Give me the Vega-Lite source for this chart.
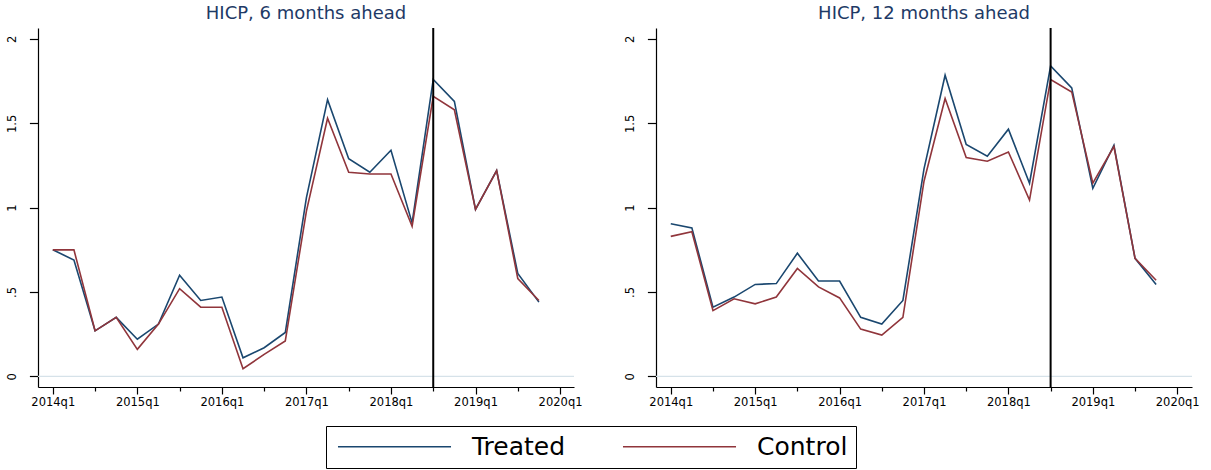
{
  "$schema": "https://vega.github.io/schema/vega-lite/v6.json",
  "background": "white",
  "padding": {"left": 6, "top": 5, "right": 5, "bottom": 0},
  "config": {
    "font": "DejaVu Sans",
    "view": {"stroke": null},
    "axis": {"labelFont": "DejaVu Sans", "labelFontSize": 11.5, "labelColor": "black", "domainColor": "black", "domainWidth": 1.2, "tickColor": "black", "tickWidth": 1.2, "grid": false, "title": null},
    "title": {"fontSize": 18, "fontWeight": "normal", "color": "#1e3a66", "font": "DejaVu Sans", "frame": "group", "offset": 4},
    "concat": {"spacing": 42}
  },
  "datasets": {
    "hicp": [
      {"panel":"6m","t":0,"series":"Treated","value":0.75},{"panel":"6m","t":1,"series":"Treated","value":0.69},{"panel":"6m","t":2,"series":"Treated","value":0.27},{"panel":"6m","t":3,"series":"Treated","value":0.35},{"panel":"6m","t":4,"series":"Treated","value":0.22},{"panel":"6m","t":5,"series":"Treated","value":0.31},{"panel":"6m","t":6,"series":"Treated","value":0.60},{"panel":"6m","t":7,"series":"Treated","value":0.45},{"panel":"6m","t":8,"series":"Treated","value":0.47},{"panel":"6m","t":9,"series":"Treated","value":0.11},{"panel":"6m","t":10,"series":"Treated","value":0.17},{"panel":"6m","t":11,"series":"Treated","value":0.26},{"panel":"6m","t":12,"series":"Treated","value":1.06},{"panel":"6m","t":13,"series":"Treated","value":1.64},{"panel":"6m","t":14,"series":"Treated","value":1.29},{"panel":"6m","t":15,"series":"Treated","value":1.21},{"panel":"6m","t":16,"series":"Treated","value":1.34},{"panel":"6m","t":17,"series":"Treated","value":0.91},{"panel":"6m","t":18,"series":"Treated","value":1.76},{"panel":"6m","t":19,"series":"Treated","value":1.63},{"panel":"6m","t":20,"series":"Treated","value":0.99},{"panel":"6m","t":21,"series":"Treated","value":1.22},{"panel":"6m","t":22,"series":"Treated","value":0.61},{"panel":"6m","t":23,"series":"Treated","value":0.44},
      {"panel":"6m","t":0,"series":"Control","value":0.75},{"panel":"6m","t":1,"series":"Control","value":0.75},{"panel":"6m","t":2,"series":"Control","value":0.27},{"panel":"6m","t":3,"series":"Control","value":0.35},{"panel":"6m","t":4,"series":"Control","value":0.16},{"panel":"6m","t":5,"series":"Control","value":0.31},{"panel":"6m","t":6,"series":"Control","value":0.52},{"panel":"6m","t":7,"series":"Control","value":0.41},{"panel":"6m","t":8,"series":"Control","value":0.41},{"panel":"6m","t":9,"series":"Control","value":0.045},{"panel":"6m","t":10,"series":"Control","value":0.13},{"panel":"6m","t":11,"series":"Control","value":0.21},{"panel":"6m","t":12,"series":"Control","value":0.98},{"panel":"6m","t":13,"series":"Control","value":1.53},{"panel":"6m","t":14,"series":"Control","value":1.21},{"panel":"6m","t":15,"series":"Control","value":1.20},{"panel":"6m","t":16,"series":"Control","value":1.20},{"panel":"6m","t":17,"series":"Control","value":0.89},{"panel":"6m","t":18,"series":"Control","value":1.66},{"panel":"6m","t":19,"series":"Control","value":1.58},{"panel":"6m","t":20,"series":"Control","value":0.99},{"panel":"6m","t":21,"series":"Control","value":1.22},{"panel":"6m","t":22,"series":"Control","value":0.58},{"panel":"6m","t":23,"series":"Control","value":0.45},
      {"panel":"12m","t":0,"series":"Treated","value":0.905},{"panel":"12m","t":1,"series":"Treated","value":0.88},{"panel":"12m","t":2,"series":"Treated","value":0.41},{"panel":"12m","t":3,"series":"Treated","value":0.47},{"panel":"12m","t":4,"series":"Treated","value":0.545},{"panel":"12m","t":5,"series":"Treated","value":0.55},{"panel":"12m","t":6,"series":"Treated","value":0.73},{"panel":"12m","t":7,"series":"Treated","value":0.565},{"panel":"12m","t":8,"series":"Treated","value":0.565},{"panel":"12m","t":9,"series":"Treated","value":0.35},{"panel":"12m","t":10,"series":"Treated","value":0.31},{"panel":"12m","t":11,"series":"Treated","value":0.45},{"panel":"12m","t":12,"series":"Treated","value":1.23},{"panel":"12m","t":13,"series":"Treated","value":1.785},{"panel":"12m","t":14,"series":"Treated","value":1.375},{"panel":"12m","t":15,"series":"Treated","value":1.305},{"panel":"12m","t":16,"series":"Treated","value":1.465},{"panel":"12m","t":17,"series":"Treated","value":1.145},{"panel":"12m","t":18,"series":"Treated","value":1.84},{"panel":"12m","t":19,"series":"Treated","value":1.71},{"panel":"12m","t":20,"series":"Treated","value":1.115},{"panel":"12m","t":21,"series":"Treated","value":1.37},{"panel":"12m","t":22,"series":"Treated","value":0.70},{"panel":"12m","t":23,"series":"Treated","value":0.545},
      {"panel":"12m","t":0,"series":"Control","value":0.83},{"panel":"12m","t":1,"series":"Control","value":0.857},{"panel":"12m","t":2,"series":"Control","value":0.39},{"panel":"12m","t":3,"series":"Control","value":0.46},{"panel":"12m","t":4,"series":"Control","value":0.43},{"panel":"12m","t":5,"series":"Control","value":0.47},{"panel":"12m","t":6,"series":"Control","value":0.64},{"panel":"12m","t":7,"series":"Control","value":0.53},{"panel":"12m","t":8,"series":"Control","value":0.465},{"panel":"12m","t":9,"series":"Control","value":0.28},{"panel":"12m","t":10,"series":"Control","value":0.245},{"panel":"12m","t":11,"series":"Control","value":0.35},{"panel":"12m","t":12,"series":"Control","value":1.157},{"panel":"12m","t":13,"series":"Control","value":1.647},{"panel":"12m","t":14,"series":"Control","value":1.297},{"panel":"12m","t":15,"series":"Control","value":1.275},{"panel":"12m","t":16,"series":"Control","value":1.33},{"panel":"12m","t":17,"series":"Control","value":1.045},{"panel":"12m","t":18,"series":"Control","value":1.76},{"panel":"12m","t":19,"series":"Control","value":1.686},{"panel":"12m","t":20,"series":"Control","value":1.145},{"panel":"12m","t":21,"series":"Control","value":1.362},{"panel":"12m","t":22,"series":"Control","value":0.70},{"panel":"12m","t":23,"series":"Control","value":0.57}
    ],
    "marker": [{"t": 18}],
    "zero": [{"v": 0}]
  },
  "hconcat": [
    {
      "title": "HICP, 6 months ahead",
      "width": 536, "height": 359,
      "layer": [
        {"data": {"name": "zero"}, "mark": {"type": "rule", "color": "#d6e2e9", "strokeWidth": 1.2},
         "encoding": {"y": {"field": "v", "type": "quantitative", "scale": {"domain": [-0.063, 2.065], "nice": false, "zero": false}}}},
        {"data": {"name": "hicp"}, "transform": [{"filter": "datum.panel === '6m'"}],
         "mark": {"type": "line", "strokeWidth": 1.6},
         "encoding": {
           "x": {"field": "t", "type": "quantitative", "scale": {"domain": [-0.7, 24.66], "nice": false, "zero": false},
                 "axis": {"values": [0,1,2,3,4,5,6,7,8,9,10,11,12,13,14,15,16,17,18,19,20,21,22,23,24], "labelExpr": "datum.value % 4 === 0 ? (2014 + datum.value/4) + 'q1' : ''", "tickSize": {"condition": {"test": "datum.value % 4 === 0", "value": 7}, "value": 4}, "labelPadding": 2, "labelFlush": false, "labelOverlap": false}},
           "y": {"field": "value", "type": "quantitative", "scale": {"domain": [-0.063, 2.065], "nice": false, "zero": false},
                 "axis": {"values": [0, 0.5, 1, 1.5, 2], "format": "~g", "labelExpr": "datum.value === 0.5 ? '.5' : datum.label", "labelAngle": 270, "labelAlign": "center", "labelBaseline": "middle", "tickSize": 8.6, "labelPadding": 17}},
           "color": {"field": "series", "type": "nominal", "sort": ["Treated", "Control"],
                     "scale": {"domain": ["Treated", "Control"], "range": ["#1a476f", "#90353b"]},
                     "legend": {"orient": "none", "legendX": 288, "legendY": 398, "direction": "horizontal", "title": null, "symbolType": "M-5,0H5", "symbolSize": 511, "symbolStrokeWidth": 1.6, "symbolOffset": 48, "labelFontSize": 25, "labelFont": "DejaVu Sans", "labelColor": "black", "strokeColor": "black", "fillColor": "white", "padding": 8, "columnPadding": 53, "labelOffset": 65}}
         }},
        {"data": {"name": "marker"}, "mark": {"type": "rule", "color": "black", "strokeWidth": 2},
         "encoding": {"x": {"field": "t", "type": "quantitative"}}}
      ]
    },
    {
      "title": "HICP, 12 months ahead",
      "width": 536, "height": 359,
      "layer": [
        {"data": {"name": "zero"}, "mark": {"type": "rule", "color": "#d6e2e9", "strokeWidth": 1.2},
         "encoding": {"y": {"field": "v", "type": "quantitative", "scale": {"domain": [-0.063, 2.065], "nice": false, "zero": false}}}},
        {"data": {"name": "hicp"}, "transform": [{"filter": "datum.panel === '12m'"}],
         "mark": {"type": "line", "strokeWidth": 1.6},
         "encoding": {
           "x": {"field": "t", "type": "quantitative", "scale": {"domain": [-0.7, 24.7], "nice": false, "zero": false},
                 "axis": {"values": [0,1,2,3,4,5,6,7,8,9,10,11,12,13,14,15,16,17,18,19,20,21,22,23,24], "labelExpr": "datum.value % 4 === 0 ? (2014 + datum.value/4) + 'q1' : ''", "tickSize": {"condition": {"test": "datum.value % 4 === 0", "value": 7}, "value": 4}, "labelPadding": 2, "labelFlush": false, "labelOverlap": false}},
           "y": {"field": "value", "type": "quantitative", "scale": {"domain": [-0.063, 2.065], "nice": false, "zero": false},
                 "axis": {"values": [0, 0.5, 1, 1.5, 2], "format": "~g", "labelExpr": "datum.value === 0.5 ? '.5' : datum.label", "labelAngle": 270, "labelAlign": "center", "labelBaseline": "middle", "tickSize": 8.6, "labelPadding": 17}},
           "color": {"field": "series", "type": "nominal", "sort": ["Treated", "Control"],
                     "scale": {"domain": ["Treated", "Control"], "range": ["#1a476f", "#90353b"]}}
         }},
        {"data": {"name": "marker"}, "mark": {"type": "rule", "color": "black", "strokeWidth": 2},
         "encoding": {"x": {"field": "t", "type": "quantitative"}}}
      ]
    }
  ]
}
